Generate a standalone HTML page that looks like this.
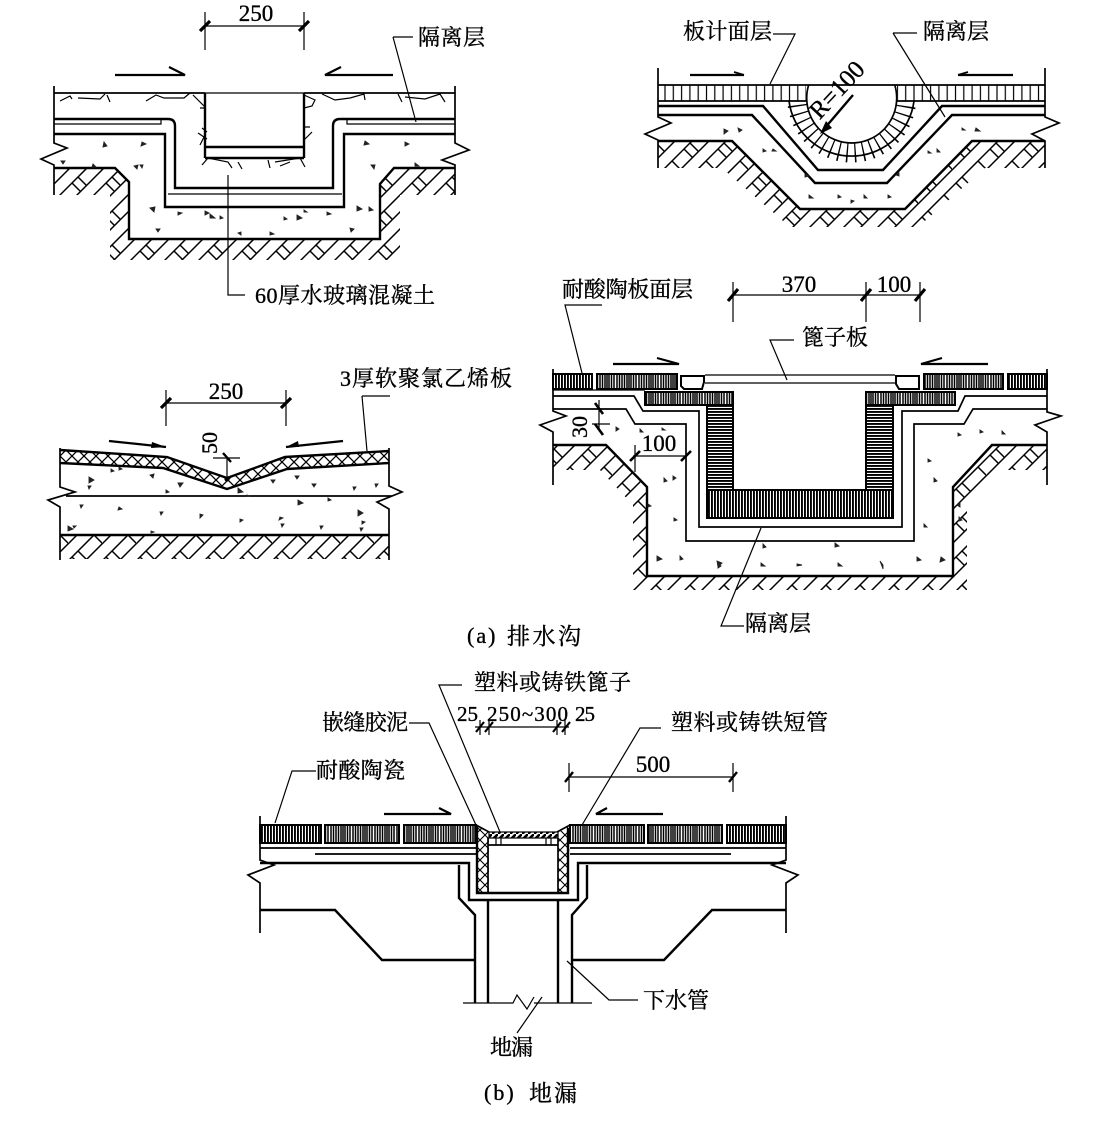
<!DOCTYPE html>
<html><head><meta charset="utf-8"><style>
html,body{margin:0;padding:0;background:#fff}
svg{display:block}
text{font-family:"Liberation Serif","Noto Serif CJK SC",serif;fill:#000;stroke:#000;stroke-width:.35}
.k{fill:none;stroke:#000;stroke-width:2.4}
.n{fill:none;stroke:#000;stroke-width:1.2}
.m{fill:none;stroke:#000;stroke-width:1.7}
.a{fill:none;stroke:#000;stroke-width:2.2}
.t{fill:none;stroke:#000;stroke-width:3.2}
.sp{fill:#222;stroke:#222;stroke-width:.9}
</style></head><body>
<svg width="1102" height="1121" viewBox="0 0 1102 1121" xmlns="http://www.w3.org/2000/svg">
<defs>
<pattern id="h" width="34" height="34" patternUnits="userSpaceOnUse"><path d="M-2 2L2-2M-2 19L19-2M-2 36L36-2M15 36L36 15M32 36L36 32M4 13L12.5 21.5M10 7L18.5 15.5M26 25L34.5 33.5" stroke="#000" stroke-width="1.5" fill="none"/></pattern>
<pattern id="v" width="3" height="10" patternUnits="userSpaceOnUse"><rect width="1.9" height="10" fill="#000"/></pattern>
<pattern id="vw" width="22" height="10" patternUnits="userSpaceOnUse"><rect width="22" height="10" fill="#fff"/><path d="M1 0V10M3.5 0V10M6 0V10M8.5 0V10M11 0V10M13 0V10M15 0V10M17.5 0V10M20 0V10" stroke="#000" stroke-width="1.5"/></pattern>
<pattern id="w" width="10" height="3" patternUnits="userSpaceOnUse"><rect width="10" height="1.9" fill="#000"/></pattern>
<pattern id="d2" width="8.3" height="10" patternUnits="userSpaceOnUse"><path d="M1 0V10" stroke="#000" stroke-width="1.2"/></pattern>
<pattern id="x" width="12" height="12" patternUnits="userSpaceOnUse"><path d="M0 0L12 12M12 0L0 12" stroke="#000" stroke-width="1.3"/></pattern>
<pattern id="xs" width="10" height="10" patternUnits="userSpaceOnUse"><path d="M0 0L10 10M10 0L0 10" stroke="#000" stroke-width="1.1"/></pattern>
<pattern id="sl" width="6" height="6" patternUnits="userSpaceOnUse"><rect width="6" height="6" fill="#fff"/><path d="M-1 7L7-1" stroke="#000" stroke-width="2.6"/></pattern>
<clipPath id="below"><rect x="770" y="101" width="170" height="80"/></clipPath>
<clipPath id="below2"><rect x="770" y="85" width="170" height="80"/></clipPath>
</defs>
<rect width="1102" height="1121" fill="#fff"/>

<!-- Diagram 1 -->
<polygon points="54,168 115,168 129,182 129,239 380,239 380,184 394,168 455,168 455,195 400,195 400,260 110,260 110,195 54,195" fill="url(#h)"/>
<path class="n" d="M205 12V50M304 12V50M205 26H304"/>
<path class="t" d="M200 31L210 21M299 31L309 21"/>
<text x="256" y="21" font-size="23" text-anchor="middle">250</text>
<path class="a" d="M115 75H185L169 67M393 75H325L341 67"/>
<path class="m" d="M54 86V143L67 148L41 159L54 165V195M455 86V143L469 150L442 160L455 165V195M54 93H205M304 93H455"/>
<path class="n" d="M205 93H304"/>
<path class="k" d="M205 93V158M304 93V158M205 147H304M205 158H304"/>
<path class="k" d="M54 119H168Q175 119 175 126V188H333V126Q333 119 340 119H455"/>
<path class="k" d="M54 134H165V207H344V134H455"/>
<path class="n" d="M54 124H161V120M347 120V124H455M168 194H342"/>
<path class="k" d="M54 168H115L129 182V239H380V184L394 168H455"/>
<path class="n" d="M60 101L70 96L72 99M78 98L100 99L105 94M107 95L110 102M146 101L156 95L164 98L184 98L190 93M193 95L205 107M200 108L205 108M202 128L207 132M198 133L207 139M205 135L200 145M304 95L315 100L312 106L304 108M322 94L335 100L350 98L364 94L365 100M398 94L402 102M405 97L425 99L440 94L445 102M304 127L310 127M304 140L312 132M202 165L208 158L228 162L232 168M238 162L242 169M268 160L270 168M275 162L300 158L305 167M280 166L290 162"/>
<path class="n" d="M228 175V295H245M393 37H413M393 37L416 122"/>
<path class="sp" d="M104 142l3 4l-4 1zM142 142l4 2l-5 2zM61 161l4 0l-2 3zM93 164l3 3l-4 0zM134 166l4-1l-1 4zM140 165l3 0l-1 3zM365 141l4 3l-5 1zM405 142l4 2l-4 2zM371 165l4 0l-1 4zM415 163l4 3l-4 0zM150 208l5-1l-1 5zM178 212l4 1l-4 2zM205 211l4 2l-4 2zM210 214l5 4l-5 0zM220 216l3 2l-3 1zM284 217l3 2l-3 1zM297 215l5 3l-5 2zM304 210l3 2l-3 0zM327 212l4 2l-4 1zM357 206l5 3l-5 2zM369 207l4 3l-4 1zM156 229l4 0l-2 3zM238 233l3-1l0 3zM270 232l4 2l-4 1zM350 228l4 1l-3 3z"/>
<text x="418" y="45" font-size="22" textLength="67">隔离层</text>
<text x="255" y="303" font-size="22" textLength="180">60厚水玻璃混凝土</text>

<!-- Diagram 2 -->
<polygon points="658,141 732,141 800,209 905,209 972,141 1045,141 1045,168 985,168 918,227 790,227 722,168 658,168" fill="url(#h)"/>
<rect x="658" y="85" width="148" height="16" fill="url(#d2)"/><rect x="897" y="85" width="148" height="16" fill="url(#d2)"/>
<circle cx="851.7" cy="98" r="55" fill="none" stroke="#000" stroke-width="19" stroke-dasharray="1.4 6.8" clip-path="url(#below)"/>
<path class="m" d="M789 101A63 63 0 0 0 914 101" clip-path="url(#below)"/>
<circle cx="851.7" cy="98" r="45" fill="none" stroke="#000" stroke-width="1.7" clip-path="url(#below2)"/>
<path class="m" d="M658 68V117L671 123L645 134L658 140V168M1045 68V117L1059 123L1032 134L1045 141V168M658 85H1045M658 101H806M897 101H1045"/>
<path class="k" d="M658 106H763L818 170H883L942 106H1045"/>
<path class="k" d="M658 115H752L815 183H887L952 115H1045"/>
<path class="k" d="M658 141H732L800 209H905L972 141H1045"/>
<path class="a" d="M690 75H744M1013 75H958"/>
<path class="m" d="M744 75L734 72M958 75L968 72"/>
<path class="k" d="M853 95L824 129"/>
<path d="M820 134L826 121L832 128Z" fill="#000"/>
<text x="837" y="98" font-size="25" text-anchor="middle" transform="rotate(-47 837 90)">R=100</text>
<path class="n" d="M773 34H795L770 84M893 33H917M893 33L945 117"/>
<path class="sp" d="M724 129l4 2l-4 3zM738 128l4 2l-3 2zM763 149l3 2l-3 1zM773 149l3 2l-4 0zM805 174l4 2l-4 1zM809 195l4 3l-4 0zM838 195l3 2l-3 1zM851 200l3 1l-3 2zM864 195l3 3l-3 0zM888 195l3 2l-3 1zM928 151l3 2l-3 0zM937 149l3 3l-3 0zM962 128l3 2l-3 0zM976 128l4 3l-5 0zM899 173l-3 2l3 1z"/>
<text x="683" y="39" font-size="22" textLength="89">板计面层</text>
<text x="923" y="39" font-size="22" textLength="66">隔离层</text>

<!-- Diagram 3 -->
<polygon points="553,445 606,445 647,487 647,576 953,576 953,487 992,445 1047,445 1047,470 1000,470 967,505 967,590 633,590 633,505 600,470 553,470" fill="url(#h)"/>
<path class="n" d="M733 282V322M866 282V322M920 282V322M733 295H920"/>
<path class="t" d="M728 301L738 289M861 301L871 289M915 301L925 289"/>
<text x="799" y="292" font-size="23" text-anchor="middle">370</text>
<text x="894" y="292" font-size="23" text-anchor="middle">100</text>
<path class="m" d="M553 369V411L566 416L540 425L553 432V485M1047 369V412L1061 416L1035 425L1047 432V485"/>
<path class="n" d="M705 375H895M705 383H895M553 390H645"/>
<g stroke="#000" stroke-width="2">
<rect x="553" y="374" width="39" height="15" fill="url(#v)"/>
<rect x="597" y="374" width="80" height="15" fill="url(#vw)"/>
<rect x="924" y="374" width="79" height="15" fill="url(#vw)"/>
<rect x="1008" y="374" width="39" height="15" fill="url(#v)"/>
<rect x="645" y="392" width="88" height="13" fill="url(#vw)"/>
<rect x="866" y="392" width="89" height="13" fill="url(#vw)"/>
<rect x="707" y="405" width="26" height="85" fill="url(#w)"/>
<rect x="866" y="405" width="27" height="85" fill="url(#w)"/>
<rect x="707" y="490" width="186" height="28" fill="url(#v)"/>
</g>
<path class="k" d="M681 376H704V382L702 389H684L681 386ZM896 376H919V389H899L896 384Z" style="stroke-width:2" fill="#fff"/>
<path class="m" d="M553 396H634L643 411H699V527H902V411H958L965 396H1047"/>
<path class="m" d="M553 409H626L635 424H686V541H914V424H964L973 409H1047"/>
<path class="k" d="M553 445H606L647 487V576H953V487L992 445H1047"/>
<path class="a" d="M613 364H679L657 358M988 364H921L942 358"/>
<path class="n" d="M599 400V430M592 424H610M635 445V472M633 456H686"/>
<path class="t" d="M595 403L603 414M595 424L603 435" style="stroke-width:2.6"/>
<path class="t" d="M630 461L640 451M681 461L691 451" style="stroke-width:2.6"/>
<text x="587" y="427" font-size="22" text-anchor="middle" transform="rotate(-90 587 427)">30</text>
<text x="659" y="451" font-size="23" text-anchor="middle">100</text>
<path class="n" d="M602 305H565L582 373M794 340H770L787 380M744 626H721L761 528"/>
<path class="sp" d="M616 427l3 2l-3 2zM640 429l3 3l-3 0zM662 428l3 2l-3 0zM664 478l3 3l-3 1zM673 476l3 2l-3 2zM648 504l3 2l-3 1zM674 518l3 2l-3 1zM657 556l5 3l-5 2zM680 556l3 3l-3 1zM717 561l5 2l-4 4zM718 563l3 3l-3 2zM761 563l4 3l-4 0zM797 564l5 1l-5 1zM838 563l4 3l-4 0zM880 561l3 4l0 4zM917 557l4 3l-4 1zM941 557l4 3l-5 2zM924 524l3 3l-3 0zM959 517l3 3l-3 1zM934 478l3 3l-3 1zM928 459l3 2l-3 1zM958 433l3 2l-3 1zM980 430l3 2l-3 1zM1002 431l3 3l-3 0zM960 503l-3 2l3 2zM763 544l3 3l-3 1zM835 543l4 3l-4 1z"/>
<text x="562" y="297" font-size="22" textLength="131">耐酸陶板面层</text>
<text x="802" y="345" font-size="22" textLength="66">篦子板</text>
<text x="745" y="631" font-size="22" textLength="66">隔离层</text>
<text x="467" y="643" font-size="22" letter-spacing="2">(a)</text>
<text x="507" y="644" font-size="23" textLength="74">排水沟</text>

<!-- Diagram 4 -->
<rect x="60" y="536" width="329" height="23" fill="url(#h)"/>
<polygon points="60,450 167,457 227,477 285,457 389,451 389,463 287,469 227,489 163,468 60,463" fill="url(#x)"/>
<path class="k" d="M60 450L167 457L227 478L285 457L389 451M60 463L163 468L227 489L287 469L389 463"/>
<path class="n" d="M166 390V426M286 390V426M166 403H286"/>
<path class="t" d="M161 408L171 398M281 408L291 398"/>
<text x="226" y="399" font-size="23" text-anchor="middle">250</text>
<path class="a" d="M109 441L166 447M343 441L286 447"/>
<path d="M166 447L152 442L151 448ZM286 447L298 441L299 447Z" fill="#000"/>
<path class="m" d="M60 448V487L75 492L48 500L60 507V560M389 448V486L402 492L377 502L389 509V560M66 496H392"/>
<path class="k" d="M60 535H389"/>
<path class="n" d="M227 458V477M213 458H240M362 396H390M362 396L367 451"/>
<path class="t" d="M223 453L231 462" style="stroke-width:2.4"/>
<circle cx="227" cy="479" r="2.6"/>
<text x="210" y="443" font-size="22" text-anchor="middle" dy="7" transform="rotate(-90 210 443)">50</text>
<path class="sp" d="M111 469l3 2l-3 1zM119 467l3 2l-3 1zM150 475l4-1l-1 4zM89 477l5 3l-5 3zM88 486l3 0l-2 3zM166 490l3 2l-3 1zM178 483l5 0l-3 4zM238 488l5 4l-5 1zM247 495l3 1l-3 0zM271 480l4 0l-2 3zM295 476l4 0l-2 3zM312 484l4 0l-2 3zM353 487l3 0l-2 3zM375 484l3 0l-2 3zM298 500l5 3l-5 2zM328 498l3 2l-3 1zM80 505l3 0l-2 3zM119 507l3 2l-4 1zM160 512l3 0l-2 3zM200 514l3 1l-3 3zM240 519l3 1l-3 2zM280 517l3 1l-4 2zM281 524l3 0l-2 3zM320 526l3 0l-2 3zM358 510l5 3l-5 3zM362 521l3 1l-3 2zM360 528l3 0l-2 3zM68 526l5 3l-5 2zM73 526l3 0l-2 2zM151 531l3 1l-3 1z"/>
<text x="340" y="386" font-size="22" textLength="172">3厚软聚氯乙烯板</text>

<!-- Diagram (b) -->
<path class="m" d="M260 816V860L274 865L248 875L260 883V933M786 816V860L772 865L798 875L786 883V933"/>
<g stroke="#000" stroke-width="2">
<rect x="260" y="825" width="61" height="18" fill="url(#v)"/>
<rect x="325" y="825" width="74" height="18" fill="url(#vw)"/>
<rect x="404" y="825" width="72" height="18" fill="url(#vw)"/>
<rect x="570" y="825" width="74" height="18" fill="url(#vw)"/>
<rect x="648" y="825" width="74" height="18" fill="url(#vw)"/>
<rect x="727" y="825" width="59" height="18" fill="url(#v)"/>
</g>
<path class="m" d="M260 848H476M570 848H786"/>
<path class="k" d="M315 854H476M570 854H731" style="stroke-width:1.8"/>
<path class="k" d="M260 863H469V900H578V863H786"/>
<path class="k" d="M459 865V898L475 915V1003M587 865V898L572 915V1003"/>
<path class="k" d="M488 900V1003M558 900V1003"/>
<path d="M476 825L489 832V892H478ZM570 825L558 832V892H568Z" fill="url(#xs)"/>
<path class="k" d="M477 828V893H568V828"/>
<path class="m" d="M488 838V892M558 838V892M488 845H558M489 832L476 825M557 832L570 825"/>
<path class="n" d="M496 838V845M501 838V845M546 838V845M551 838V845"/>
<rect x="489" y="832" width="69" height="6" fill="url(#sl)" stroke="#000" stroke-width="1.2"/>
<path class="a" d="M384 814H451L439 808M663 814H596L607 808"/>
<path class="n" d="M462 685H439L500 832M409 723H429L476 825M661 728H640L582 825M316 771H292L275 823"/>
<path class="n" d="M475 727H569M480 720V735M489 720V735M557 720V735M565 720V735M569 763V792M733 763V792M569 777H733"/>
<path class="t" d="M476 732L484 722M485 732L493 722M553 732L561 722M562 732L570 722" style="stroke-width:2.2"/>
<path class="t" d="M565 782L573 772M729 782L737 772" style="stroke-width:2.4"/>
<path class="k" d="M260 910H335L382 960H474M572 960H664L712 910H786"/>
<path class="n" d="M463 1003H513L517 995L527 1009L534 997M534 1003H592M542 997L517 1033M567 961L609 1000H638"/>
<text x="474" y="690" font-size="22" textLength="157">塑料或铸铁篦子</text>
<text x="322" y="730" font-size="22" textLength="86">嵌缝胶泥</text>
<text x="671" y="730" font-size="22" textLength="157">塑料或铸铁短管</text>
<text x="457" y="721" font-size="21" textLength="21">25</text>
<text x="487" y="721" font-size="21" textLength="81">250~300</text>
<text x="575" y="721" font-size="21" textLength="20">25</text>
<text x="653" y="772" font-size="23" text-anchor="middle">500</text>
<text x="316" y="778" font-size="22" textLength="89">耐酸陶瓷</text>
<text x="643" y="1008" font-size="22" textLength="66">下水管</text>
<text x="490" y="1055" font-size="22" textLength="43">地漏</text>
<text x="484" y="1100" font-size="22" letter-spacing="2">(b)</text>
<text x="529" y="1101" font-size="23" textLength="48">地漏</text>
</svg>
</body></html>
